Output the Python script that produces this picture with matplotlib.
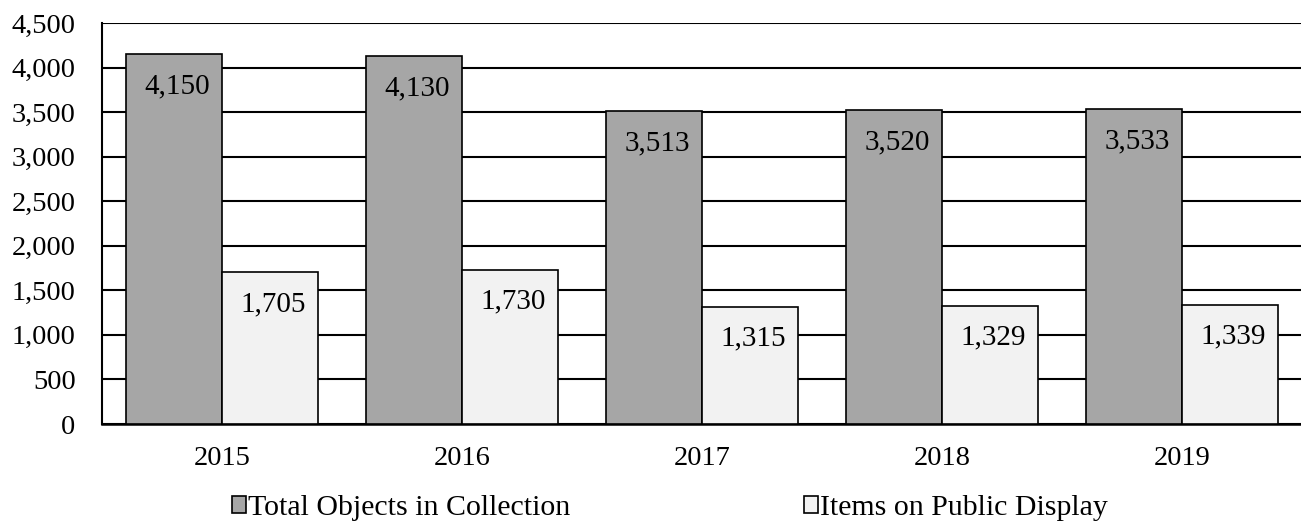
import numpy as np
import matplotlib.pyplot as plt

# data
years = ["2015", "2016", "2017", "2018", "2019"]
total_objects = [4150, 4130, 3513, 3520, 3533]
public_display = [1705, 1730, 1315, 1329, 1339]
yticks = [0, 500, 1000, 1500, 2000, 2500, 3000, 3500, 4000, 4500]

plt.rcParams['font.family'] = ['Liberation Serif', 'DejaVu Serif']
plt.rcParams['font.size'] = 20.5

fig = plt.figure(figsize=(13.01, 5.22), dpi=100)
ax = fig.add_axes([102/1301, 1 - 424/522, 1200/1301, 401/522])

x = np.arange(len(years))
w = 0.4
b1 = ax.bar(x - w/2, total_objects, w, color='#a6a6a6', edgecolor='black',
            linewidth=1.2, label='Total Objects in Collection', zorder=3)
b2 = ax.bar(x + w/2, public_display, w, color='#f2f2f2', edgecolor='black',
            linewidth=1.2, label='Items on Public Display', zorder=3)

# etiquetas dentro de las barras
for rects, vals in [(b1, total_objects), (b2, public_display)]:
    for r, v in zip(rects, vals):
        ax.annotate(f"{v:,}", (r.get_x() + r.get_width()/2, v),
                    xytext=(3.5, -39), textcoords='offset pixels',
                    ha='center', va='baseline', fontsize=21, zorder=4)

ax.set_xlim(-0.5, 4.5)
ax.set_ylim(0, 4500)
ax.set_yticks(yticks)
ax.set_yticklabels([f"{t:,}" for t in yticks])
ax.set_xticks(x)
ax.set_xticklabels(years)
ax.yaxis.grid(True, color='black', linewidth=1.5, zorder=0)
ax.set_axisbelow(True)
for s in ['top', 'right']:
    ax.spines[s].set_visible(False)
ax.spines['left'].set_linewidth(1.5)
ax.spines['bottom'].set_linewidth(1.8)
ax.tick_params(axis='y', length=0, pad=19)
ax.tick_params(axis='x', length=0, pad=16)

leg = fig.legend(handles=[b1, b2], loc='center left', bbox_to_anchor=(232/1301, 1 - 508/522),
                 ncol=2, frameon=False, handlelength=0.48, handleheight=0.48,
                 handletextpad=0.07, columnspacing=7.8, fontsize=21.5, borderpad=0,
                 borderaxespad=0)

fig.savefig("out.png", dpi=100)
